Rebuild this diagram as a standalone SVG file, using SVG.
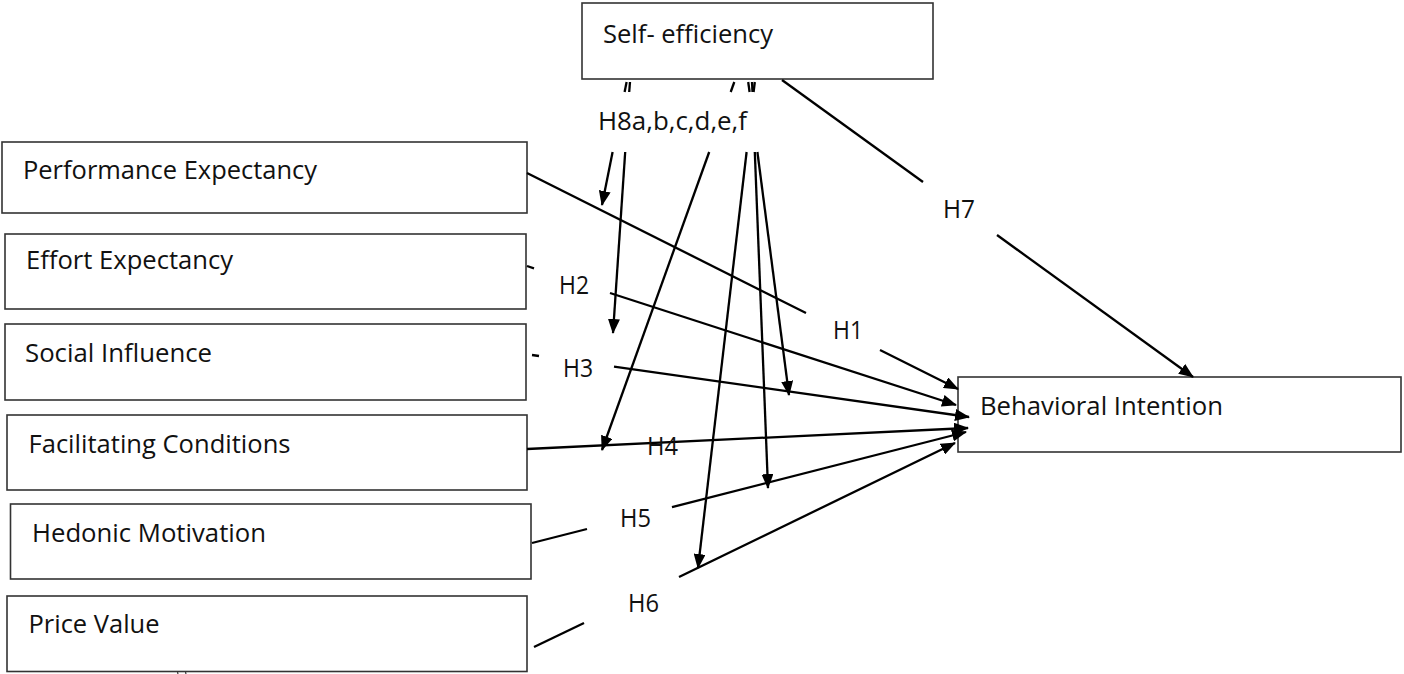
<svg xmlns="http://www.w3.org/2000/svg" width="1404" height="674" viewBox="0 0 1404 674">
<style>
  .box { fill: #ffffff; stroke: #333333; stroke-width: 1.6; }
  .lbl { font-family: "Open Sans", "Liberation Sans", sans-serif; font-size: 25px; fill: #111111; }
  .ln { stroke: #000000; stroke-width: 2.3; fill: none; }
  .arr { marker-end: url(#ah); }
</style>
<defs>
  <marker id="ah" markerWidth="15" markerHeight="12" refX="14" refY="6" orient="auto" markerUnits="userSpaceOnUse">
    <path d="M0,0 L15,6 L0,12 z" fill="#000000"/>
  </marker>
</defs>
<rect width="1404" height="674" fill="#ffffff"/>

<g id="self-efficiency">
  <rect class="box" x="582" y="3" width="351" height="76"/>
  <text class="lbl" x="603" y="43" textLength="170" lengthAdjust="spacingAndGlyphs">Self- efficiency</text>
</g>
<g id="performance-expectancy">
  <rect class="box" x="2" y="142" width="525" height="71"/>
  <text class="lbl" x="23" y="179" textLength="294" lengthAdjust="spacingAndGlyphs">Performance Expectancy</text>
</g>
<g id="effort-expectancy">
  <rect class="box" x="5" y="234" width="521" height="75"/>
  <text class="lbl" x="26" y="269" textLength="207" lengthAdjust="spacingAndGlyphs">Effort Expectancy</text>
</g>
<g id="social-influence">
  <rect class="box" x="5" y="324" width="521" height="76"/>
  <text class="lbl" x="25" y="362" textLength="187" lengthAdjust="spacingAndGlyphs">Social Influence</text>
</g>
<g id="facilitating-conditions">
  <rect class="box" x="7" y="415" width="520" height="75"/>
  <text class="lbl" x="28.5" y="453" textLength="262" lengthAdjust="spacingAndGlyphs">Facilitating Conditions</text>
</g>
<g id="hedonic-motivation">
  <rect class="box" x="10.5" y="504" width="520.5" height="75"/>
  <text class="lbl" x="32" y="542" textLength="234" lengthAdjust="spacingAndGlyphs">Hedonic Motivation</text>
</g>
<g id="price-value">
  <rect class="box" x="7" y="596" width="520" height="75.5"/>
  <text class="lbl" x="28.5" y="633" textLength="131" lengthAdjust="spacingAndGlyphs">Price Value</text>
</g>
<g id="behavioral-intention">
  <rect class="box" x="958" y="377" width="443" height="75"/>
  <text class="lbl" x="980" y="415" textLength="243" lengthAdjust="spacingAndGlyphs">Behavioral Intention</text>
</g>

<g id="connectors">
  <!-- H1 -->
  <line class="ln" x1="527" y1="173" x2="806" y2="313"/>
  <line class="ln arr" x1="880" y1="350" x2="958" y2="389"/>
  <!-- H2 -->
  <line class="ln" x1="527" y1="266" x2="534" y2="268.3"/>
  <line class="ln arr" x1="610" y1="293" x2="956" y2="405"/>
  <!-- H3 -->
  <line class="ln" x1="532" y1="355" x2="539" y2="356"/>
  <line class="ln arr" x1="614" y1="366.6" x2="969" y2="417"/>
  <!-- H4 -->
  <line class="ln arr" x1="527" y1="449" x2="968" y2="428"/>
  <!-- H5 -->
  <line class="ln" x1="532" y1="543" x2="587" y2="529"/>
  <line class="ln arr" x1="672" y1="507.2" x2="966" y2="432"/>
  <!-- H6 -->
  <line class="ln" x1="534" y1="647" x2="584" y2="623"/>
  <line class="ln arr" x1="679" y1="577" x2="955" y2="443"/>
  <!-- H7 -->
  <line class="ln" x1="782" y1="80" x2="923" y2="182"/>
  <line class="ln arr" x1="997" y1="235" x2="1193" y2="377"/>
  <!-- H8 moderating lines: top fragments -->
  <line class="ln" x1="626.6" y1="82" x2="624.6" y2="92"/>
  <line class="ln" x1="630" y1="82" x2="629.2" y2="92"/>
  <line class="ln" x1="734.3" y1="82" x2="730.7" y2="92"/>
  <line class="ln" x1="754.8" y1="82" x2="753.6" y2="92"/>
  <line class="ln" x1="752" y1="82" x2="752.5" y2="92"/>
  <line class="ln" x1="748.2" y1="82" x2="749.6" y2="92"/>
  <!-- H8 moderating lines: lower parts with arrows -->
  <line class="ln arr" x1="612.6" y1="152" x2="602" y2="205"/>
  <line class="ln arr" x1="625.2" y1="152" x2="613" y2="333"/>
  <line class="ln arr" x1="709.2" y1="152" x2="602" y2="450"/>
  <line class="ln arr" x1="746.6" y1="152" x2="698" y2="568"/>
  <line class="ln arr" x1="754.8" y1="152" x2="768" y2="488"/>
  <line class="ln arr" x1="757.4" y1="152" x2="789" y2="395"/>
  <!-- small marks under Price Value -->
  <line x1="177.5" y1="672" x2="178" y2="674" stroke="#333" stroke-width="1.2"/>
  <line x1="185.5" y1="672" x2="186" y2="674" stroke="#333" stroke-width="1.2"/>
</g>

<g id="labels">
  <text class="lbl" x="598" y="130" textLength="149" lengthAdjust="spacingAndGlyphs">H8a,b,c,d,e,f</text>
  <text class="lbl" x="833" y="339" textLength="30" lengthAdjust="spacingAndGlyphs">H1</text>
  <text class="lbl" x="559" y="294" textLength="30" lengthAdjust="spacingAndGlyphs">H2</text>
  <text class="lbl" x="563" y="377" textLength="30" lengthAdjust="spacingAndGlyphs">H3</text>
  <text class="lbl" x="647" y="455" textLength="31" lengthAdjust="spacingAndGlyphs">H4</text>
  <text class="lbl" x="620" y="527" textLength="31" lengthAdjust="spacingAndGlyphs">H5</text>
  <text class="lbl" x="628" y="612" textLength="31" lengthAdjust="spacingAndGlyphs">H6</text>
  <text class="lbl" x="943" y="218" textLength="32" lengthAdjust="spacingAndGlyphs">H7</text>
</g>
</svg>
